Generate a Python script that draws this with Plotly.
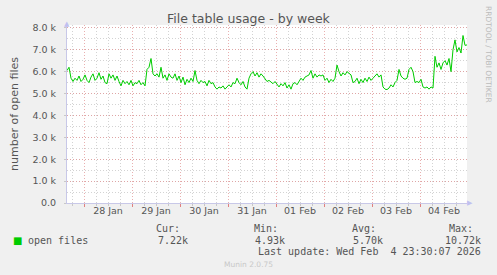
import plotly.graph_objects as go
import pandas as pd

# ---- data (hourly samples, in thousands of open files) ----
start_time = "2026-01-27 15:30"
end_time = "2026-02-04 23:30"
open_files_k = [
    6.05, 6.2, 5.7, 5.55, 5.7, 5.6, 5.8, 5.55, 5.65,
    5.85, 5.6, 5.5, 5.75, 5.9, 5.6, 5.7, 5.95,
    5.65, 5.8, 5.5, 5.45, 5.9, 5.7, 5.85, 5.6,
    5.8, 5.55, 5.35, 5.6, 5.45, 5.55, 5.4, 5.6,
    5.35, 5.5, 5.45, 5.6, 5.4, 5.5, 5.35, 6.1,
    6.2, 6.6, 5.9, 5.8, 5.9, 5.75, 6.2, 5.7,
    5.85, 5.6, 5.9, 5.75, 5.7, 5.9, 5.6, 5.8,
    5.5, 5.75, 5.4, 5.65, 5.5, 5.7, 5.55, 6.05,
    5.6, 5.45, 5.6, 5.5, 5.55, 5.35, 5.6, 5.45,
    5.5, 5.3, 5.2, 5.3, 5.25, 5.35, 5.2, 5.3,
    5.4, 5.3, 5.5, 5.45, 5.7, 5.5, 5.4, 5.55,
    5.3, 5.2, 5.7, 5.9, 6.0, 5.8, 5.95, 5.75,
    5.9, 5.8, 5.65, 5.55, 5.6, 5.5, 5.45, 5.55,
    5.4, 5.3, 5.45, 5.35, 5.5, 5.25, 5.4, 5.2,
    5.45, 5.5, 5.4, 5.55, 5.7, 5.6, 5.75, 5.8,
    5.85, 6.05, 5.7, 5.9, 5.75, 5.85, 5.8, 5.85,
    5.6, 5.7, 5.5, 5.65, 5.55, 5.7, 6.3, 6.0,
    5.8, 5.95, 5.85, 6.0, 5.9, 5.85, 5.5, 5.55,
    5.7, 5.45, 5.65, 5.5, 5.7, 5.55, 5.75, 5.6,
    5.7, 5.8, 5.9, 5.75, 5.85, 5.3, 5.2, 5.18,
    5.25, 5.4, 5.3, 5.5, 5.6, 6.1, 5.8, 5.7,
    5.65, 5.7, 6.1, 6.2, 6.0, 5.5, 5.55, 5.5,
    5.65, 5.3, 5.25, 5.3, 5.2, 5.3, 5.25, 6.7,
    6.2, 6.4, 6.1, 6.4, 6.5, 6.3, 6.6, 6.0,
    7.0, 7.45, 6.9, 7.1, 6.85, 7.65, 7.2, 7.22,
]
day_midnights = ["2026-01-28", "2026-01-29", "2026-01-30", "2026-01-31",
                 "2026-02-01", "2026-02-02", "2026-02-03", "2026-02-04"]
day_labels = ["28 Jan", "29 Jan", "30 Jan", "31 Jan",
              "01 Feb", "02 Feb", "03 Feb", "04 Feb"]
y_tick_vals = [0, 1000, 2000, 3000, 4000, 5000, 6000, 7000, 8000]
y_tick_text = ["0.0", "1.0 k", "2.0 k", "3.0 k", "4.0 k", "5.0 k", "6.0 k", "7.0 k", "8.0 k"]
legend_name = "open files"
stat_labels = ["Cur:", "Min:", "Avg:", "Max:"]
stat_values = ["7.22k", "4.93k", "5.70k", "10.72k"]
last_update = "Last update: Wed Feb  4 23:30:07 2026"

times = pd.date_range(start_time, periods=len(open_files_k), freq="h")
values = [v * 1000 for v in open_files_k]
noons = [pd.Timestamp(d) + pd.Timedelta(hours=12) for d in day_midnights]

# ---- layout geometry ----
W, H = 497, 275
L, R, T, B = 67, 30, 25, 72
PW, PH = W - L - R, H - T - B

def px(x):
    return (x - L) / PW

def py(y):
    return (H - B - y) / PH

GREEN = "#00CC00"
TXT = "#555555"
MAJOR = "rgba(225,150,150,0.75)"
MINOR = "rgba(200,200,200,0.8)"
fig = go.Figure()
fig.add_trace(go.Scatter(x=times, y=values, mode="lines",
                         line=dict(color=GREEN, width=1), showlegend=False,
                         hoverinfo="skip"))
# invisible trace for label axis
fig.add_trace(go.Scatter(x=noons, y=[None] * len(noons), xaxis="x2",
                         showlegend=False, hoverinfo="skip"))

xr = [pd.Timestamp(start_time), pd.Timestamp(end_time)]
fig.update_layout(
    width=W, height=H,
    margin=dict(l=L, r=R, t=T, b=B, pad=0),
    paper_bgcolor="#F0F0F0", plot_bgcolor="#FFFFFF",
    font=dict(family="DejaVu Sans", size=9.5, color=TXT),
    xaxis=dict(range=xr, type="date", tick0="2026-01-28", dtick=86400000,
               showticklabels=False, showgrid=True,
               gridcolor=MAJOR, griddash="1px,2px", gridwidth=1,
               minor=dict(dtick=21600000, showgrid=True, gridcolor=MINOR,
                          griddash="1px,2px", ticks="outside", ticklen=2,
                          tickcolor="#C8C8C8"),
               ticks="outside", ticklen=3, tickcolor="#E08080",
               showline=True, linecolor="#C8C8E8", linewidth=1,
               zeroline=False, fixedrange=True),
    xaxis2=dict(range=xr, type="date", overlaying="x", side="bottom",
                tickmode="array", tickvals=noons, ticktext=day_labels,
                showgrid=False, ticks="", showline=False, zeroline=False,
                tickfont=dict(size=9.5, color=TXT)),
    yaxis=dict(range=[0, 8130], tickmode="array", tickvals=y_tick_vals,
               ticktext=y_tick_text, showgrid=True,
               gridcolor=MAJOR, griddash="1px,2px",
               minor=dict(dtick=500, tick0=0, showgrid=True, gridcolor=MINOR,
                          griddash="1px,2px"),
               ticks="outside", ticklen=2, tickcolor="#C8C8C8",
               showline=True, linecolor="#C8C8E8", linewidth=1,
               zeroline=False, ticklabelstandoff=6,
               tickfont=dict(size=9.5, color=TXT),
               title=dict(text="number of open files", font=dict(size=11, color=TXT),
                          standoff=11)),
)

ann = []
ann.append(dict(text="File table usage - by week", x=px(249), y=py(19), xref="paper", yref="paper",
                showarrow=False, font=dict(size=12.5, color=TXT), xanchor="center", yanchor="middle"))
ann.append(dict(text="RRDTOOL / TOBI OETIKER", x=px(488), y=py(54), xref="paper", yref="paper",
                showarrow=False, textangle=90, font=dict(size=7.5, color="#BBBBBB"),
                xanchor="center", yanchor="middle"))
# axis arrows
ann.append(dict(text="▲", x=px(67), y=py(24), xref="paper", yref="paper", showarrow=False,
                font=dict(size=7, color="#C0C0F0"), xanchor="center", yanchor="middle"))
ann.append(dict(text="▶", x=px(470), y=py(203), xref="paper", yref="paper", showarrow=False,
                font=dict(size=7, color="#C0C0F0"), xanchor="center", yanchor="middle"))
MONO = "DejaVu Sans Mono"
ann.append(dict(text="■", x=px(17), y=py(240), xref="paper", yref="paper", showarrow=False,
                font=dict(size=10, color=GREEN, family="DejaVu Sans"), xanchor="center", yanchor="middle"))
ann.append(dict(text=legend_name, x=px(26), y=py(240), xref="paper", yref="paper", showarrow=False,
                font=dict(size=10, color=TXT, family=MONO), xanchor="left", yanchor="middle"))
label_left = [154, 252, 350, 447]
value_right = [190, 287, 385, 483]
for lab, val, lx, vr in zip(stat_labels, stat_values, label_left, value_right):
    ann.append(dict(text=lab, x=px(lx), y=py(228), xref="paper", yref="paper", showarrow=False,
                    font=dict(size=10, color=TXT, family=MONO), xanchor="left", yanchor="middle"))
    ann.append(dict(text=val, x=px(vr), y=py(240), xref="paper", yref="paper", showarrow=False,
                    font=dict(size=10, color=TXT, family=MONO), xanchor="right", yanchor="middle"))
ann.append(dict(text=last_update.replace(" ", "&nbsp;"), x=px(483), y=py(252), xref="paper", yref="paper",
                showarrow=False, font=dict(size=10, color=TXT, family=MONO),
                xanchor="right", yanchor="middle"))
ann.append(dict(text="Munin 2.0.75", x=px(248), y=py(264), xref="paper", yref="paper",
                showarrow=False, font=dict(size=7.5, color="#C8C8C8"),
                xanchor="center", yanchor="middle"))
fig.update_layout(annotations=ann)

fig.write_html("out.html")
